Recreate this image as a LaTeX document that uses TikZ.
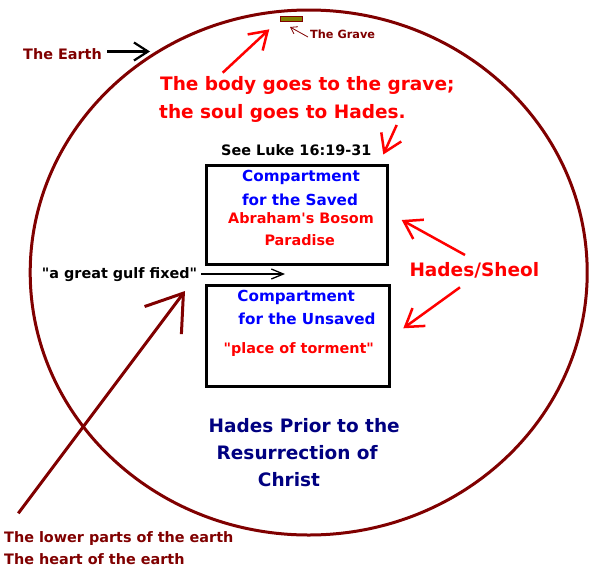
\documentclass[tikz,border=0pt]{standalone}
\usepackage{fontspec}
% straight quote marks, as the picture prints them
\setmainfont[Ligatures=TeXOff]{DejaVu Sans}
\usetikzlibrary{arrows.meta}

\begin{document}
\begin{tikzpicture}[
    x=1pt, y=-1pt,
    font=\bfseries,
    lbl/.style={anchor=base west, inner sep=0pt},
    mid/.style={anchor=base, inner sep=0pt},
    big/.style={font=\bfseries\fontsize{18.5pt}{20pt}\selectfont},
    med/.style={font=\bfseries\fontsize{15.2pt}{17pt}\selectfont},
    small/.style={font=\bfseries\fontsize{14.4pt}{16pt}\selectfont},
    tiny/.style={font=\bfseries\fontsize{11.3pt}{13pt}\selectfont},
    room/.style={draw=black, line width=3pt, inner sep=0pt},
    redarrow/.style={red, line width=2.5pt, -{Straight Barb[length=17pt, width=22pt]}}
]

% Colours
\definecolor{earth}{RGB}{128, 0, 0}
\definecolor{grave}{RGB}{128, 128, 0}
\definecolor{navyblue}{RGB}{0, 0, 128}

\useasboundingbox (0,0) rectangle (604,570);

% The earth
\draw[earth, line width=3pt] (308.7,272.5) ellipse [x radius=278.5pt, y radius=262.5pt];

% The grave
\node[draw=earth, fill=grave, line width=0.8pt, minimum width=22pt, minimum height=5pt, inner sep=0pt] (grave) at (291,18.8) {};

% The two compartments
\node[room, minimum width=181pt, minimum height=99pt] (saved) at (296.5,215) {};
\node[room, minimum width=182.5pt, minimum height=101pt] (unsaved) at (298.2,336) {};

% Labels
\node[lbl, tiny, text=earth] (gravelbl) at (310,38.7) {The Grave};
\node[lbl, small, text=earth] (earthlbl) at (23,59) {The Earth};
\node[lbl, big, text=red] (body) at (160,90.7) {The body goes to the grave;};
\node[lbl, big, text=red] (soul) at (159,118.3) {the soul goes to Hades.};
\node[lbl, small] (luke) at (221,155.7) {See Luke 16:19-31};

\node[mid, med, text=blue] (comp1) at (301,181.5) {Compartment};
\node[mid, med, text=blue] (for1) at (300,205) {for the Saved};
\node[mid, small, text=red] (bosom) at (301,223.3) {Abraham's Bosom};
\node[mid, small, text=red] (paradise) at (299.7,245) {Paradise};

\node[lbl, small] (gulf) at (41.7,278) {"a great gulf fixed"};
\node[lbl, big, text=red] (sheol) at (409.3,276) {Hades/Sheol};

\node[mid, med, text=blue] (comp2) at (296.2,301.5) {Compartment};
\node[mid, med, text=blue] (for2) at (307,324.3) {for the Unsaved};
\node[mid, small, text=red] (torment) at (298.8,353.3) {"place of torment"};

\node[mid, big, text=navyblue] (title1) at (304.2,432.3) {Hades Prior to the};
\node[mid, big, text=navyblue] (title2) at (297.2,459.3) {Resurrection of};
\node[mid, big, text=navyblue] (title3) at (289,486.7) {Christ};

\node[lbl, small, text=earth] (lower) at (4,542.7) {The lower parts of the earth};
\node[lbl, small, text=earth] (heart) at (4,564.7) {The heart of the earth};

% Arrow ends
\coordinate (earthtip) at (150,51.5);
\coordinate (gravetip) at (290,27);
\coordinate (bodytail) at (222.7,72.7);
\coordinate (bodytip) at (269.3,29.3);
\coordinate (soultail) at (396.7,125);
\coordinate (soultip) at (383.3,154.5);
\coordinate (gulftip) at (285,274);
\coordinate (sheolup) at (465,255);
\coordinate (savedtip) at (401.7,220);
\coordinate (sheoldown) at (460,287.3);
\coordinate (unsavedtip) at (403.3,328.3);
\coordinate (lowertail) at (18.3,513.3);
\coordinate (lowertip) at (185,291);

% Arrows
\draw[black, line width=2.2pt, -{Straight Barb[length=14pt, width=18pt]}] (107,51.5) -- (earthtip);
\draw[earth, line width=0.8pt, -{Straight Barb[length=6pt, width=8pt]}] (308,37) -- (gravetip);
\draw[redarrow] (bodytail) -- (bodytip);
\draw[redarrow] (soultail) -- (soultip);
\draw[black, line width=1.3pt, -{Straight Barb[length=12pt, width=10pt]}] (gulf.east |- gulftip) ++(4,0) -- (gulftip);
\draw[redarrow] (sheolup) -- (savedtip);
\draw[redarrow] (sheoldown) -- (unsavedtip);
\draw[earth, line width=3pt, -{Straight Barb[length=34pt, width=46pt]}] (lowertail) -- (lowertip);

\end{tikzpicture}
\end{document}
